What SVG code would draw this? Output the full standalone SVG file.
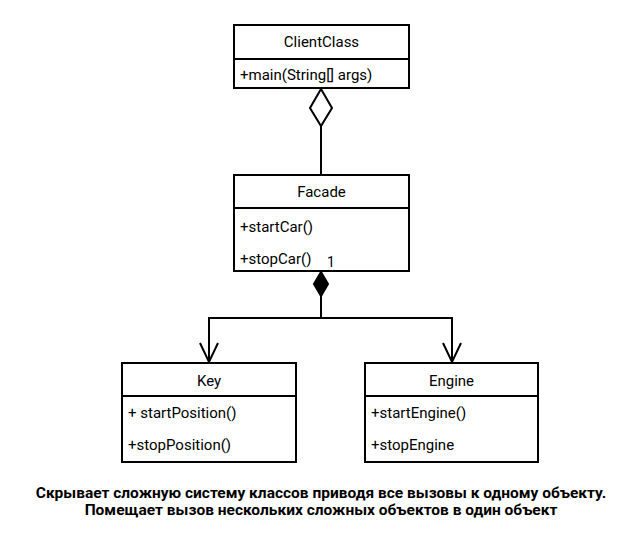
<svg xmlns="http://www.w3.org/2000/svg" width="634" height="543" viewBox="0 0 634 543">
<style>
.box{fill:#fff;stroke:#000;stroke-width:2}
.ln{fill:none;stroke:#000;stroke-width:2}
text{font-family:Roboto,"Liberation Sans",sans-serif;font-size:15px;fill:#000}
.c{text-anchor:middle}
.b{font-weight:bold;font-size:15.5px}
</style>
<rect width="634" height="543" fill="#fff"/>
<g id="ClientClass">
<rect class="box" x="234" y="25" width="175" height="63"/>
<line class="ln" x1="234" y1="59" x2="409" y2="59"/>
<text x="321.5" y="47" class="c">ClientClass</text>
<text x="240" y="80">+main(String[] args)</text>
</g>
<g id="Facade">
<rect class="box" x="234" y="175" width="175" height="96"/>
<line class="ln" x1="234" y1="208" x2="409" y2="208"/>
<text x="321.5" y="197" class="c">Facade</text>
<text x="240" y="232">+startCar()</text>
<text x="240" y="264">+stopCar()</text>
</g>
<g id="Key">
<rect class="box" x="122" y="363" width="174" height="99"/>
<line class="ln" x1="122" y1="396" x2="296" y2="396"/>
<text x="209" y="386" class="c">Key</text>
<text x="128" y="418">+ startPosition()</text>
<text x="128" y="450">+stopPosition()</text>
</g>
<g id="Engine">
<rect class="box" x="365" y="363" width="173" height="99"/>
<line class="ln" x1="365" y1="396" x2="538" y2="396"/>
<text x="451.5" y="386" class="c">Engine</text>
<text x="371" y="418">+startEngine()</text>
<text x="371" y="450">+stopEngine</text>
</g>
<g id="connectors">
<line class="ln" x1="321" y1="126" x2="321" y2="175"/>
<path class="ln" d="M321 89 L332 108 L321 126 L310 108 Z" style="fill:#fff"/>
<path d="M321 272 L328 284 L321 296 L314 284 Z" fill="#000" stroke="#000" stroke-width="2"/>
<path class="ln" d="M321 296 V318 H209 V362 M321 318 H452 V362"/>
<path class="ln" d="M200 343 L209 362 L218 343"/>
<path class="ln" d="M443 343 L452 362 L461 343"/>
<text x="331" y="267" class="c" style="font-size:14px">1</text>
</g>
<g id="caption">
<text x="321" y="498" class="c b">Скрывает сложную систему классов приводя все вызовы к одному объекту.</text>
<text x="321" y="515" class="c b">Помещает вызов нескольких сложных объектов в один объект</text>
</g>
</svg>
